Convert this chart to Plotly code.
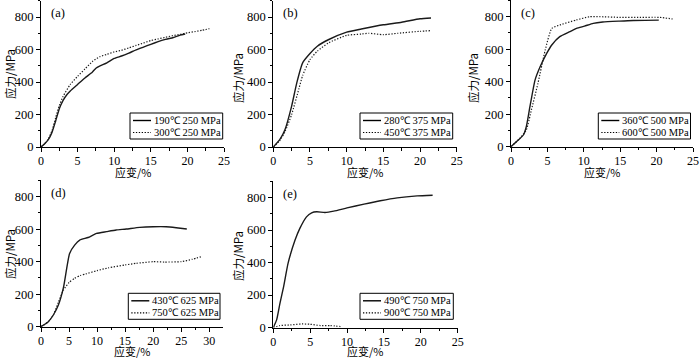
import plotly.graph_objects as go

# ---------------- data (strain %, stress MPa) ----------------
a1_label = "190℃ 250 MPa"
a1_x = [0, 0.5, 1, 1.5, 2, 2.5, 3, 3.5, 4, 5, 6, 7, 7.5, 8, 9, 10, 11, 12, 13, 14, 15, 16, 17, 17.5, 18, 19, 19.7]
a1_y = [0, 20, 45, 90, 160, 235, 285, 320, 345, 385, 425, 460, 485, 498, 518, 545, 560, 578, 598, 615, 632, 648, 662, 668, 672, 688, 695]
a2_label = "300℃ 250 MPa"
a2_x = [0, 0.5, 1, 1.5, 2, 2.5, 3, 4, 5, 6, 7, 8, 9, 10, 11, 12, 13, 14, 15, 16, 17, 18, 19, 20, 21, 22, 23]
a2_y = [0, 20, 50, 100, 180, 255, 310, 385, 435, 480, 525, 555, 570, 585, 595, 610, 625, 640, 655, 665, 675, 685, 693, 703, 710, 718, 728]

b1_label = "280℃ 375 MPa"
b1_x = [0, 0.9, 1.6, 2.5, 3.2, 4, 5, 6, 7.5, 10, 12, 15, 17.5, 20, 21.5]
b1_y = [0, 47, 108, 252, 395, 518, 575, 620, 660, 707, 726, 752, 768, 789, 794]
b2_label = "450℃ 375 MPa"
b2_x = [0, 0.9, 1.6, 2.5, 3.5, 4, 5, 6, 7.5, 10, 12, 13, 15, 17, 20, 21.5]
b2_y = [0, 40, 95, 200, 360, 440, 538, 590, 640, 687, 695, 700, 691, 700, 712, 716]

c1_label = "360℃ 500 MPa"
c1_x = [0, 1, 1.7, 2.1, 2.6, 3.3, 4.0, 4.9, 5.6, 6.7, 8.1, 9.0, 10.1, 11.3, 12.6, 14.9, 16.8, 20.3]
c1_y = [0, 41, 72, 123, 246, 410, 492, 574, 626, 677, 708, 728, 742, 759, 767, 773, 777, 779]
c2_label = "600℃ 500 MPa"
c2_x = [0, 1.2, 2.1, 2.8, 3.7, 4.7, 5.6, 6.7, 9.0, 10.8, 12.2, 14.9, 17.7, 20.4, 22.2]
c2_y = [0, 51, 103, 226, 390, 595, 728, 749, 780, 800, 800, 796, 796, 796, 786]

d1_label = "430℃ 625 MPa"
d1_x = [0, 1.3, 2.2, 3.1, 4.0, 5.1, 6.0, 6.9, 8.4, 9.9, 11.7, 13.4, 15.2, 17.6, 20, 22.3, 24.1, 26]
d1_y = [0, 31, 72, 133, 240, 451, 502, 533, 549, 574, 585, 595, 601, 611, 615, 615, 609, 601]
d2_label = "750℃ 625 MPa"
d2_x = [0, 1.3, 2.2, 3.1, 4, 5, 6, 7, 8, 10, 12, 15, 17, 20, 22, 25, 27, 28.5]
d2_y = [0, 31, 72, 150, 225, 272, 298, 315, 325, 345, 362, 380, 390, 400, 398, 400, 415, 430]

e1_label = "490℃ 750 MPa"
e1_x = [0, 0.45, 0.9, 1.4, 2.0, 2.95, 3.6, 4.5, 5.2, 5.9, 7.0, 8.2, 10, 12.3, 14.5, 16.8, 19.5, 21.6]
e1_y = [0, 47, 149, 252, 395, 538, 610, 681, 706, 712, 708, 716, 736, 759, 780, 798, 810, 814]
e2_label = "900℃ 750 MPa"
e2_x = [0, 0.9, 2.3, 3.9, 5, 6.4, 7.7, 9.1]
e2_y = [0, 12, 16, 22, 20, 12, 12, 6]

panel_labels = ["(a)", "(b)", "(c)", "(d)", "(e)"]
x_tick_vals = [[0, 5, 10, 15, 20, 25]] * 3 + [[0, 5, 10, 15, 20, 25, 30], [0, 5, 10, 15, 20, 25]]
y_tick_vals = [0, 200, 400, 600, 800]
x_title = "应变/%"
y_title = "应力/MPa"

# ---------------- layout geometry (pixels) ----------------
W, H = 700, 358
panels = [
    # x0, x1, ybottom, ytop, xmax
    (41, 224, 147, 0.75, 25),
    (273.3, 456.7, 147, 0.75, 25),
    (511, 693, 146.7, 0.45, 25),
    (41, 222.7, 326.7, 180.45, 32.4),
    (273.3, 457.7, 327.5, 181.25, 25),
]
# axis-title centres (pixels): x-title (cx, cy), y-title (cx, cy)
title_pos = [
    ((133, 172), (10, 74)),
    ((365, 172), (238, 78)),
    ((602, 172), (473, 78)),
    ((132, 350.5), (10, 254)),
    ((365, 350.5), (238, 256)),
]
legend_boxes = [
    (130, 222.7, 113, 139),
    (360, 452.7, 113, 139),
    (598.3, 690.5, 113, 139),
    (128.3, 220, 293.3, 319.3),
    (360, 453.3, 293.3, 319.3),
]
series = [
    (a1_x, a1_y, a1_label, a2_x, a2_y, a2_label),
    (b1_x, b1_y, b1_label, b2_x, b2_y, b2_label),
    (c1_x, c1_y, c1_label, c2_x, c2_y, c2_label),
    (d1_x, d1_y, d1_label, d2_x, d2_y, d2_label),
    (e1_x, e1_y, e1_label, e2_x, e2_y, e2_label),
]

def px(x):
    return x / W

def py(y):
    return 1 - y / H

SERIF = "Liberation Serif, Times New Roman, serif"
CJK = "Noto Sans CJK SC"
DOT = "1.3px,1.6px"

fig = go.Figure()
layout = dict(
    width=W, height=H, margin=dict(l=0, r=0, t=0, b=0, autoexpand=False),
    paper_bgcolor="white", plot_bgcolor="white", showlegend=False,
    font=dict(family=SERIF, size=12, color="black"),
)
shapes = []
annotations = []

for i, (p, s, lb, lab, xt, tp) in enumerate(zip(panels, series, legend_boxes, panel_labels, x_tick_vals, title_pos)):
    n = i + 1
    xa = "x" if n == 1 else f"x{n}"
    ya = "y" if n == 1 else f"y{n}"
    x0, x1, yb, yt, xmax = p
    sx, sy, sl, dx, dy, dl = s
    fig.add_trace(go.Scatter(x=sx, y=sy, mode="lines", name=sl, xaxis=xa, yaxis=ya,
                             line=dict(color="#1a1a1a", width=1.4, shape="spline", smoothing=0.5)))
    fig.add_trace(go.Scatter(x=dx, y=dy, mode="lines", name=dl, xaxis=xa, yaxis=ya,
                             line=dict(color="#1a1a1a", width=1.2, dash=DOT, shape="spline", smoothing=0.5)))
    layout[f"xaxis{'' if n == 1 else n}"] = dict(
        domain=[px(x0), px(x1)], anchor=ya, range=[0, xmax], automargin=False,
        showline=True, linecolor="black", linewidth=1, showgrid=False, zeroline=False,
        ticks="outside", ticklen=4, tickwidth=1, tickcolor="black", ticklabelstandoff=-1,
        tickvals=xt, ticktext=[str(v) for v in xt],
        tickfont=dict(family=SERIF, size=12, color="black"),
        minor=dict(ticks="outside", ticklen=2.5, tickwidth=1, tickcolor="black", dtick=2.5, tick0=0),
    )
    layout[f"yaxis{'' if n == 1 else n}"] = dict(
        domain=[py(yb), py(yt)], anchor=xa, range=[0, 900], automargin=False,
        showline=True, linecolor="black", linewidth=1, showgrid=False, zeroline=False,
        ticks="outside", ticklen=4, tickwidth=1, tickcolor="black",
        tickvals=y_tick_vals, ticktext=[str(v) for v in y_tick_vals],
        tickfont=dict(family=SERIF, size=12.5, color="black"),
        minor=dict(ticks="outside", ticklen=2.5, tickwidth=1, tickcolor="black", dtick=100, tick0=0),
    )
    # axis titles
    (xcx, xcy), (ycx, ycy) = tp
    annotations.append(dict(x=px(xcx), y=py(xcy), xref="paper", yref="paper", text=x_title,
                            showarrow=False, xanchor="center", yanchor="middle", borderpad=0,
                            font=dict(family=CJK, size=11, color="black")))
    annotations.append(dict(x=px(ycx), y=py(ycy), xref="paper", yref="paper", text=y_title,
                            showarrow=False, xanchor="center", yanchor="middle", textangle=-90,
                            borderpad=0, font=dict(family=CJK, size=11.5, color="black")))
    # panel label
    annotations.append(dict(x=px(x0 + 8), y=py(yt + 12.5), xref="paper", yref="paper", text=lab,
                            showarrow=False, xanchor="left", yanchor="middle",
                            font=dict(family=SERIF, size=12.5, color="black")))
    # legend box
    bx0, bx1, by0, by1 = lb
    shapes.append(dict(type="rect", xref="paper", yref="paper", x0=px(bx0), x1=px(bx1),
                       y0=py(by1), y1=py(by0), line=dict(color="black", width=1), fillcolor="white"))
    r1 = by0 + 7.5
    r2 = by0 + 19.5
    shapes.append(dict(type="line", xref="paper", yref="paper", x0=px(bx0 + 3), x1=px(bx0 + 21),
                       y0=py(r1), y1=py(r1), line=dict(color="black", width=1.4)))
    shapes.append(dict(type="line", xref="paper", yref="paper", x0=px(bx0 + 3), x1=px(bx0 + 21),
                       y0=py(r2), y1=py(r2), line=dict(color="black", width=1.2, dash=DOT)))
    for txt, r in ((sl, r1), (dl, r2)):
        annotations.append(dict(x=px(bx0 + 22), y=py(r), xref="paper", yref="paper", text=txt,
                                showarrow=False, xanchor="left", yanchor="middle",
                                font=dict(family=SERIF, size=10.5, color="black")))

layout["shapes"] = shapes
layout["annotations"] = annotations
fig.update_layout(**layout)
fig.write_html("out.html", config={"displayModeBar": False},
               post_script="document.body.style.margin='0px';document.body.style.padding='0px';")
